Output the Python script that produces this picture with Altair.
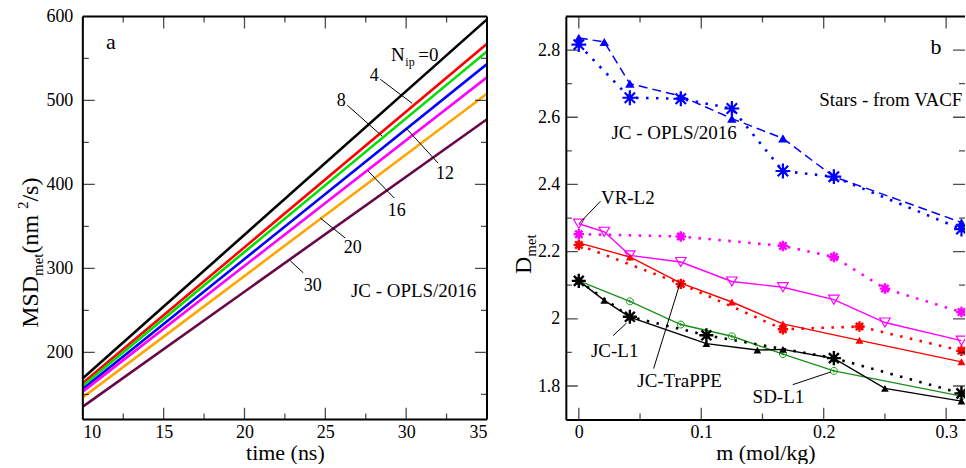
import altair as alt
import pandas as pd

FONT = "Liberation Serif"

# ---------------- Panel (a): MSD vs time ----------------
time_ns = [10, 35]
nip = ["0", "4", "8", "12", "16", "20", "30"]
msd_at_10ns = [169.1, 163.6, 160.4, 156.5, 153.3, 146.5, 135.5]
msd_at_35ns = [596.5, 567.5, 558.4, 543.3, 527.5, 508.0, 477.6]
nip_colors = ["#000000", "#ff0000", "#00e000", "#0000ff", "#ff00ff", "#ffa500", "#670748"]

a_x_major = [10, 15, 20, 25, 30, 35]
a_x_minor = [12.5, 17.5, 22.5, 27.5, 32.5]
a_y_major = [200, 300, 400, 500, 600]
a_y_minor = [150, 250, 350, 450, 550]

a_num_labels = ["4", "8", "12", "16", "20", "30"]
a_num_x = [28.02, 25.99, 32.4, 29.42, 26.69, 24.22]
a_num_y = [522.8, 493.1, 406.3, 362.4, 318.8, 273.3]
a_lead_x1 = [28.40, 26.36, 30.00, 27.65, 24.69, 22.84]
a_lead_y1 = [525.2, 494.3, 466.9, 415.8, 360.0, 308.9]
a_lead_x2 = [30.37, 28.52, 31.98, 29.26, 26.23, 23.64]
a_lead_y2 = [496.6, 457.4, 425.3, 383.8, 336.2, 294.7]

# ---------------- Panel (b): D_met vs m ----------------
m_jc_opls = [0, 0.0208, 0.0417, 0.0833, 0.125, 0.1667, 0.2083, 0.3125]
d_jc_opls = [2.836, 2.824, 2.700, 2.663, 2.596, 2.537, 2.423, 2.287]
m_jc_opls_vacf = [0, 0.0417, 0.0833, 0.125, 0.1667, 0.2083, 0.3125]
d_jc_opls_vacf = [2.816, 2.658, 2.655, 2.626, 2.440, 2.423, 2.267]
m_vr_l2 = [0, 0.0208, 0.0417, 0.0833, 0.125, 0.1667, 0.2083, 0.25, 0.3125]
d_vr_l2 = [2.283, 2.259, 2.189, 2.169, 2.111, 2.094, 2.057, 1.989, 1.935]
m_vr_l2_vacf = [0, 0.0833, 0.1667, 0.2083, 0.25, 0.3125]
d_vr_l2_vacf = [2.252, 2.245, 2.217, 2.184, 2.090, 2.020]
m_jc_trappe = [0, 0.0417, 0.0833, 0.125, 0.1667, 0.2292, 0.3125]
d_jc_trappe = [2.226, 2.184, 2.106, 2.050, 1.985, 1.936, 1.872]
m_jc_trappe_vacf = [0, 0.0833, 0.1667, 0.2292, 0.3125]
d_jc_trappe_vacf = [2.220, 2.104, 1.969, 1.977, 1.905]
m_sd_l1 = [0, 0.0417, 0.0833, 0.125, 0.1667, 0.2083, 0.3125]
d_sd_l1 = [2.113, 2.052, 1.983, 1.948, 1.895, 1.845, 1.770]
m_jc_l1 = [0, 0.0208, 0.0417, 0.1042, 0.1458, 0.1667, 0.2083, 0.25, 0.3125]
d_jc_l1 = [2.113, 2.055, 2.005, 1.926, 1.907, 1.909, 1.882, 1.793, 1.755]
m_jc_l1_vacf = [0, 0.0417, 0.1042, 0.2083, 0.3125]
d_jc_l1_vacf = [2.113, 2.006, 1.951, 1.883, 1.778]

b_x_major = [0, 0.1, 0.2, 0.3]
b_x_minor = [0.05, 0.15, 0.25]
b_y_major = [1.8, 2.0, 2.2, 2.4, 2.6, 2.8]
b_y_minor = [1.9, 2.1, 2.3, 2.5, 2.7]

b_lbl_text = ["JC - OPLS/2016", "VR-L2", "JC-L1", "JC-TraPPE", "SD-L1"]
b_lbl_x = [0.0778, 0.040, 0.0293, 0.0823, 0.163]
b_lbl_y = [2.536, 2.343, 1.885, 1.796, 1.750]
b_lead_x1 = [0.0177, 0.028, 0.0611, 0.1747]
b_lead_y1 = [2.350, 1.950, 1.852, 1.804]
b_lead_x2 = [0.0003, 0.0389, 0.0829, 0.206]
b_lead_y2 = [2.284, 1.987, 2.109, 1.842]

STAR = "M-1,0L1,0M0,-1L0,1M-0.7,-0.7L0.7,0.7M-0.7,0.7L0.7,-0.7"
CIRC_PLUS = "M1,0A1,1,0,1,1,-1,0A1,1,0,1,1,1,0M-0.45,0L0.45,0M0,-0.45L0,0.45"

# ---------------- scales / axes ----------------
A_XMIN, A_XMAX, A_YMIN, A_YMAX = 10, 35, 120, 600
B_XMIN, B_XMAX, B_YMIN, B_YMAX = -0.0106, 0.3154, 1.7, 2.9
sx_a = alt.Scale(domain=[A_XMIN, A_XMAX], nice=False, zero=False)
sy_a = alt.Scale(domain=[A_YMIN, A_YMAX], nice=False, zero=False)
sx_b = alt.Scale(domain=[B_XMIN, B_XMAX], nice=False, zero=False)
sy_b = alt.Scale(domain=[B_YMIN, B_YMAX], nice=False, zero=False)

axis_ax = alt.Axis(values=a_x_major, ticks=False, tickSize=0, domain=False, grid=False, format="d",
                   labelFont=FONT, labelFontSize=18, labelColor="black", labelPadding=4,
                   title="time (ns)", titleFont=FONT, titleFontSize=22, titleFontWeight="normal",
                   titleColor="black", titleY=40, titleBaseline="alphabetic")
axis_ay = alt.Axis(values=a_y_major, ticks=False, tickSize=0, domain=False, grid=False, format="d",
                   labelFont=FONT, labelFontSize=18, labelColor="black", labelPadding=10,
                   title=None)
axis_bx = alt.Axis(values=b_x_major, ticks=False, tickSize=0, domain=True, domainColor="black",
                   domainWidth=2, grid=False, labelExpr="format(datum.value, '.1~f')",
                   labelFont=FONT, labelFontSize=18, labelColor="black", labelPadding=4,
                   title="m (mol/kg)", titleFont=FONT, titleFontSize=22, titleFontWeight="normal",
                   titleColor="black", titleY=40, titleBaseline="alphabetic")
axis_by = alt.Axis(values=b_y_major, ticks=False, tickSize=0, domain=True, domainColor="black",
                   domainWidth=2, grid=False, labelExpr="format(datum.value, '.1~f')",
                   labelFont=FONT, labelFontSize=18, labelColor="black", labelPadding=6,
                   title=None)

PANEL = {
    "a": (sx_a, sy_a, axis_ax, axis_ay),
    "b": (sx_b, sy_b, axis_bx, axis_by),
}


def X(field, p):
    sx, sy, ax, ay = PANEL[p]
    return alt.X(field, type="quantitative", scale=sx, axis=ax)


def Y(field, p):
    sx, sy, ax, ay = PANEL[p]
    return alt.Y(field, type="quantitative", scale=sy, axis=ay)


def XD(v, p):
    sx, sy, ax, ay = PANEL[p]
    return alt.XDatum(v, type="quantitative", scale=sx, axis=ax)


def YD(v, p):
    sx, sy, ax, ay = PANEL[p]
    return alt.YDatum(v, type="quantitative", scale=sy, axis=ay)


def tick_layers(xmaj, xmin_, ymaj, ymin_, xlo, xhi, ylo, yhi, p):
    layers = []
    for vals, size in ((xmaj, 24), (xmin_, 12)):
        df = pd.DataFrame({"x": vals * 2, "y": [ylo] * len(vals) + [yhi] * len(vals)})
        layers.append(alt.Chart(df).mark_tick(orient="vertical", size=size, thickness=1.3,
                                              color="black", clip=True)
                      .encode(x=X("x", p), y=Y("y", p)))
    for vals, size in ((ymaj, 24), (ymin_, 12)):
        df = pd.DataFrame({"y": vals * 2, "x": [xlo] * len(vals) + [xhi] * len(vals)})
        layers.append(alt.Chart(df).mark_tick(orient="horizontal", size=size, thickness=1.3,
                                              color="black", clip=True)
                      .encode(x=X("x", p), y=Y("y", p)))
    return layers


def ptext(text, x, y, size):
    return alt.Chart(pd.DataFrame({"t": [text]})).mark_text(
        font=FONT, fontSize=size, angle=270, align="left", baseline="alphabetic",
        color="black").encode(text="t:N", x=alt.value(x), y=alt.value(y))


def dtext(items, p, clip=False):
    out = []
    for txt, x, y, fs, al in items:
        out.append(alt.Chart(pd.DataFrame({"x": [x], "y": [y], "label": [txt]})).mark_text(
            font=FONT, fontSize=fs, align=al, baseline="alphabetic", color="black", clip=clip).encode(
            x=X("x", p), y=Y("y", p), text="label:N"))
    return out


# ---------------- Panel (a) ----------------
rows = []
for lab, s, e in zip(nip, msd_at_10ns, msd_at_35ns):
    rows.append({"t": time_ns[0], "msd": s, "nip": lab})
    rows.append({"t": time_ns[1], "msd": e, "nip": lab})
df_a = pd.DataFrame(rows)

a_lines = alt.Chart(df_a).mark_line(strokeWidth=2.6, clip=True).encode(
    x=X("t", "a"), y=Y("msd", "a"),
    color=alt.Color("nip:N", scale=alt.Scale(domain=nip, range=nip_colors), legend=None),
)

a_frame = [
    alt.Chart().mark_rule(strokeWidth=2, color="black").encode(x=XD(A_XMIN, "a")),
    alt.Chart().mark_rule(strokeWidth=2, color="black").encode(x=XD(A_XMAX, "a")),
    alt.Chart().mark_rule(strokeWidth=2, color="black").encode(y=YD(A_YMIN, "a")),
    alt.Chart().mark_rule(strokeWidth=2, color="black").encode(y=YD(A_YMAX, "a")),
]

df_a_lead = pd.DataFrame({"x": a_lead_x1, "y": a_lead_y1, "x2": a_lead_x2, "y2": a_lead_y2})
a_leads = alt.Chart(df_a_lead).mark_rule(strokeWidth=1, color="black").encode(
    x=X("x", "a"), y=Y("y", "a"), x2="x2", y2="y2")

df_a_num = pd.DataFrame({"x": a_num_x, "y": a_num_y, "label": a_num_labels})
a_nums = alt.Chart(df_a_num).mark_text(font=FONT, fontSize=18, align="center",
                                       baseline="alphabetic", color="black").encode(
    x=X("x", "a"), y=Y("y", "a"), text="label:N")

a_texts = dtext([("JC - OPLS/2016", 30.46, 266.2, 19, "center"),
                 ("N", 29.06, 547.4, 19, "left"),
                 ("ip", 29.95, 540.6, 12, "left"),
                 ("=0", 30.75, 547.4, 19, "left"),
                 ("a", 11.73, 560.8, 22, "center")], "a")

a_title = [
    ptext("MSD", -45, 312, 24),
    ptext("met", -40, 260, 15),
    ptext(" (nm", -45, 237.5, 24),
    ptext("2", -55, 193, 15),
    ptext("/s)", -45, 185.5, 24),
]

anchor = alt.Chart().mark_rule(color="white", strokeWidth=1).encode(
    x=alt.value(-82), x2=alt.value(-81), y=alt.value(-15), y2=alt.value(-14))

left = alt.layer(a_lines, *tick_layers(a_x_major, a_x_minor, a_y_major, a_y_minor,
                                       A_XMIN, A_XMAX, A_YMIN, A_YMAX, "a"),
                 *a_frame, a_leads, a_nums, *a_texts, *a_title, anchor).properties(width=405, height=404)

# ---------------- Panel (b) ----------------


def series(m, d, color, dash, width, shape, size, filled, sw):
    df = pd.DataFrame({"m": m, "d": d})
    kw = dict(strokeWidth=width, color=color, clip=True)
    if dash:
        kw["strokeDash"] = dash
    line = alt.Chart(df).mark_line(**kw).encode(x=X("m", "b"), y=Y("d", "b"))
    pts = alt.Chart(df).mark_point(shape=shape, size=size, filled=filled, color=color,
                                   strokeWidth=sw, opacity=1, clip=True).encode(
        x=X("m", "b"), y=Y("d", "b"))
    return line, pts


DOT = [2.5, 7.5]
specs = [
    (m_jc_opls, d_jc_opls, "#0000ff", [9, 5], 1.5, "triangle-up", 90, True, 1),
    (m_jc_opls_vacf, d_jc_opls_vacf, "#0000ff", DOT, 2.6, STAR, 220, False, 2.2),
    (m_vr_l2, d_vr_l2, "#ff00ff", None, 1.4, "triangle-down", 110, False, 1.2),
    (m_vr_l2_vacf, d_vr_l2_vacf, "#ff00ff", DOT, 2.6, STAR, 110, False, 2.4),
    (m_jc_trappe, d_jc_trappe, "#ff0000", None, 1.4, "triangle-up", 65, True, 1),
    (m_jc_trappe_vacf, d_jc_trappe_vacf, "#ff0000", DOT, 2.6, STAR, 110, False, 2.4),
    (m_sd_l1, d_sd_l1, "#1a931a", None, 1.4, CIRC_PLUS, 49, False, 1),
    (m_jc_l1, d_jc_l1, "#000000", None, 1.4, "triangle-up", 60, True, 1),
    (m_jc_l1_vacf, d_jc_l1_vacf, "#000000", DOT, 2.6, STAR, 200, False, 2.4),
]
b_lines, b_pts = [], []
for s in specs:
    l, pt = series(*s)
    b_lines.append(l)
    b_pts.append(pt)

b_top = alt.Chart().mark_rule(strokeWidth=2, color="black").encode(y=YD(B_YMAX, "b"))

df_b_lead = pd.DataFrame({"x": b_lead_x1, "y": b_lead_y1, "x2": b_lead_x2, "y2": b_lead_y2})
b_leads = alt.Chart(df_b_lead).mark_rule(strokeWidth=1, color="black").encode(
    x=X("x", "b"), y=Y("y", "b"), x2="x2", y2="y2")

df_b_lbl = pd.DataFrame({"x": b_lbl_x, "y": b_lbl_y, "label": b_lbl_text})
b_lbls = alt.Chart(df_b_lbl).mark_text(font=FONT, fontSize=19, align="center",
                                       baseline="alphabetic", color="black").encode(
    x=X("x", "b"), y=Y("y", "b"), text="label:N")

b_texts = dtext([("Stars - from VACF", 0.1964, 2.633, 19, "left"),
                 ("b", 0.2918, 2.788, 22, "center")], "b", clip=True)

b_title = [
    ptext("D", -35, 258, 24),
    ptext("met", -30, 240.7, 15),
]

right = alt.layer(*b_lines, *b_pts,
                  *tick_layers(b_x_major, b_x_minor, b_y_major, b_y_minor,
                               B_XMIN, B_XMAX, B_YMIN, B_YMAX, "b"),
                  b_top, b_leads, b_lbls, *b_texts, *b_title).properties(width=400, height=404)

chart = alt.hconcat(left, right, spacing=79, bounds="flush", padding=0).configure_view(stroke=None)

chart.save("out.html", embed_options={"renderer": "svg", "actions": False})
